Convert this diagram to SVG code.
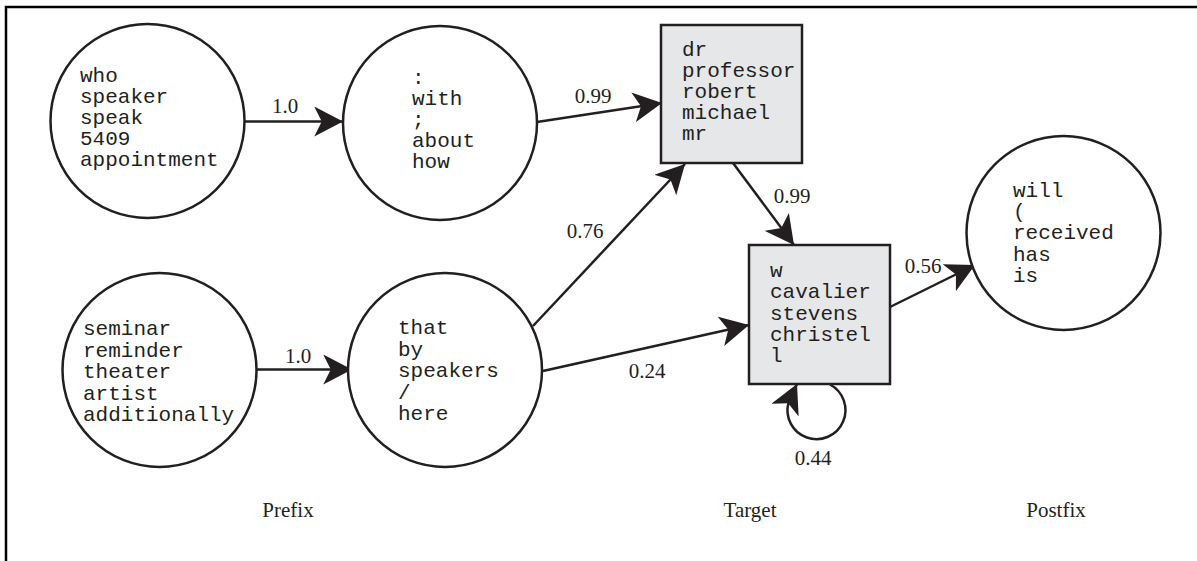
<svg xmlns="http://www.w3.org/2000/svg" width="1197" height="561" viewBox="0 0 1197 561">
<defs>
<style>
.frame{fill:none;stroke:#000;stroke-width:2.5}
.node{fill:#fff;stroke:#231f20;stroke-width:2.5}
.box{fill:#e6e7e9;stroke:#231f20;stroke-width:2.5}
.mono{font-family:"Liberation Mono","Courier New",monospace;font-size:21px;fill:#231f20}
.edge{fill:none;stroke:#231f20;stroke-width:2.5;marker-end:url(#arr)}
.lbl{font-family:"Liberation Serif","Times New Roman",serif;font-size:21px;fill:#231f20;text-anchor:middle}
</style>
<marker id="arr" markerUnits="userSpaceOnUse" markerWidth="30" markerHeight="30" refX="23" refY="12" orient="auto" viewBox="0 0 24 24">
<path d="M23,12 L0,0 L6,12 L0,24 Z" fill="#231f20"/>
</marker>
</defs>
<rect width="1197" height="561" fill="#fff"/>
<path class="frame" d="M6,561 L6,7 L1197,7"/>

<g id="connectors">
<path class="edge" d="M245,121.5 L343,121.5"/>
<path class="edge" d="M537,122 L662,103"/>
<path class="edge" d="M533,326 L685,164"/>
<path class="edge" d="M733,163 L794,245"/>
<path class="edge" d="M890,307 L975,265"/>
<path class="edge" d="M257,369.5 L352,369.5"/>
<path class="edge" d="M543,371 L749,325"/>
<path class="edge" d="M830,384.5 A29,29 0 1 1 788.5,402.5 L797,384"/>
<text class="lbl" x="285" y="113">1.0</text>
<text class="lbl" x="593" y="103">0.99</text>
<text class="lbl" x="585" y="238">0.76</text>
<text class="lbl" x="792" y="203">0.99</text>
<text class="lbl" x="923" y="273">0.56</text>
<text class="lbl" x="298" y="363">1.0</text>
<text class="lbl" x="647" y="378">0.24</text>
<text class="lbl" x="813" y="465">0.44</text>
</g>

<g id="n_who">
<circle class="node" cx="147.5" cy="121" r="97"/>
<text class="mono" x="80" y="82">who<tspan x="80" dy="21">speaker</tspan><tspan x="80" dy="21">speak</tspan><tspan x="80" dy="21">5409</tspan><tspan x="80" dy="21">appointment</tspan></text>
</g>

<g id="n_with">
<circle class="node" cx="440" cy="123" r="97"/>
<text class="mono" x="412" y="84">:<tspan x="412" dy="21">with</tspan><tspan x="412" dy="21">;</tspan><tspan x="412" dy="21">about</tspan><tspan x="412" dy="21">how</tspan></text>
</g>

<g id="n_dr">
<rect class="box" x="661" y="25" width="141" height="138"/>
<text class="mono" x="682" y="56">dr<tspan x="682" dy="21">professor</tspan><tspan x="682" dy="21">robert</tspan><tspan x="682" dy="21">michael</tspan><tspan x="682" dy="21">mr</tspan></text>
</g>

<g id="n_w">
<rect class="box" x="749" y="245" width="141" height="139"/>
<text class="mono" x="770" y="277">w<tspan x="770" dy="21.3">cavalier</tspan><tspan x="770" dy="21.3">stevens</tspan><tspan x="770" dy="21.3">christel</tspan><tspan x="770" dy="21.3">l</tspan></text>
</g>

<g id="n_will">
<circle class="node" cx="1063.5" cy="233" r="97"/>
<text class="mono" x="1013" y="197">will<tspan x="1013" dy="21.2">(</tspan><tspan x="1013" dy="21.2">received</tspan><tspan x="1013" dy="21.2">has</tspan><tspan x="1013" dy="21.2">is</tspan></text>
</g>

<g id="n_seminar">
<circle class="node" cx="159.5" cy="370" r="97"/>
<text class="mono" x="83" y="335">seminar<tspan x="83" dy="21.5">reminder</tspan><tspan x="83" dy="21.5">theater</tspan><tspan x="83" dy="21.5">artist</tspan><tspan x="83" dy="21.5">additionally</tspan></text>
</g>

<g id="n_that">
<circle class="node" cx="445" cy="370" r="97"/>
<text class="mono" x="398" y="334">that<tspan x="398" dy="21.5">by</tspan><tspan x="398" dy="21.5">speakers</tspan><tspan x="398" dy="21.5">/</tspan><tspan x="398" dy="21.5">here</tspan></text>
</g>

<g id="headers">
<text class="lbl" x="288" y="517">Prefix</text>
<text class="lbl" x="750" y="517">Target</text>
<text class="lbl" x="1056" y="517">Postfix</text>
</g>
</svg>
